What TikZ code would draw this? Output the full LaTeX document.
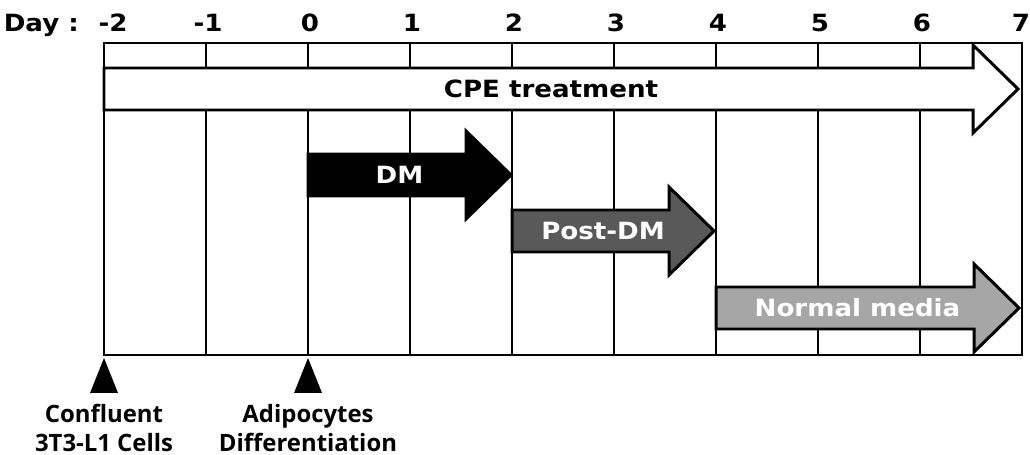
\documentclass[tikz,border=0pt]{standalone}
\usepackage{fontspec}
\setmainfont{DejaVu Sans}[FakeStretch=1.1]
\newfontfamily\notefont{Open Sans}
\usetikzlibrary{positioning}

\begin{document}
\begin{tikzpicture}[x=0.02cm, y=-0.02cm,
    day/.style={font=\bfseries\fontsize{13.5}{15}\selectfont, anchor=base},
    gridline/.style={line width=1pt},
    phase/.style={draw=black, line width=1.7pt, line join=miter},
    tag/.style={font=\bfseries\fontsize{13.5}{15}\selectfont, inner sep=0pt},
    note/.style={align=center, inner sep=0pt, anchor=north,
        font=\notefont\bfseries\fontsize{13.6}{16.4}\selectfont}]
    \useasboundingbox (0,0) rectangle (1030,455);
    \node[day, anchor=base east] (daylabel) at (85,32) {Day :};
    \node[day] (d0) at (113,32) {-2};
    \foreach \d [count=\i from 1] in {-1,...,6}
        \node[day] (d\i) at (106+102*\i,32) {\d};
    \node[day] (d9) at (1021,32) {7};
    \draw[gridline] (104,43) rectangle (1022,355);
    \foreach \i in {1,...,8}
        \draw[gridline] (104+102*\i,43) -- (104+102*\i,355);
    \foreach \xa/\xb/\yc/\col/\tcol/\txt/\nm in {
        104/1018/89/white/black/CPE treatment/cpe,
        308/511/175/black/white/DM/dm,
        512/714/231/black!65/white/Post-DM/postdm,
        716/1019/308/black!35/white/Normal media/normal}{
        \draw[phase, fill=\col] (\xa,\yc-21) -- (\xb-45,\yc-21) -- (\xb-45,\yc-44)
            -- (\xb,\yc) -- (\xb-45,\yc+44) -- (\xb-45,\yc+21) -- (\xa,\yc+21) -- cycle;
        \node[tag, text=\tcol] (\nm) at ({(\xa+\xb)/2-10},\yc) {\txt};
    }
    \fill (104,358) -- (118,393) -- (90,393) -- cycle;
    \fill (308,358) -- (322,393) -- (294,393) -- cycle;
    \node[note] (confluent) at (104,404) {Confluent\\3T3-L1 Cells};
    \node[note] (adipo) at (308,404) {Adipocytes\\Differentiation};
\end{tikzpicture}
\end{document}
